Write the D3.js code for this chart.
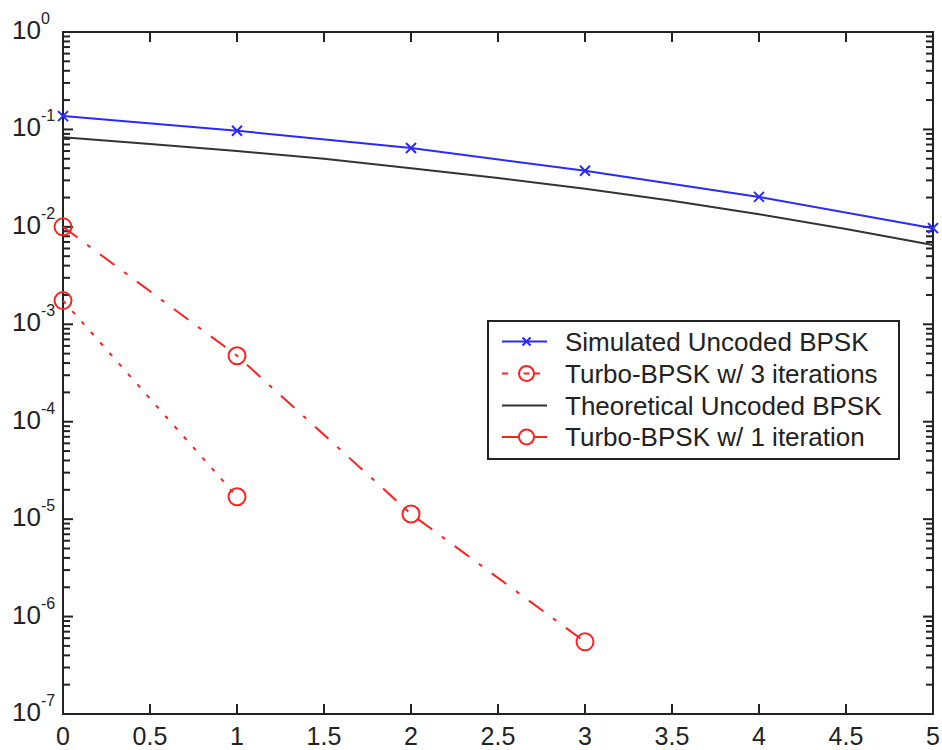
<!DOCTYPE html>
<html>
<head>
<meta charset="utf-8">
<script src="https://cdn.jsdelivr.net/npm/d3@7"></script>
<style>
  html, body { margin: 0; padding: 0; background: #fff; }
  svg { display: block; }
  text { font-family: "Liberation Sans", Arial, sans-serif; fill: #222; }
</style>
</head>
<body>
<svg id="chart" width="942" height="750"></svg>
<script>
// ---- data ----
const xTicks = [0, 0.5, 1, 1.5, 2, 2.5, 3, 3.5, 4, 4.5, 5];
const xTickLabels = ["0", "0.5", "1", "1.5", "2", "2.5", "3", "3.5", "4", "4.5", "5"];
const yDecades = [0, -1, -2, -3, -4, -5, -6, -7];

const simX = [0, 1, 2, 3, 4, 5];
const simBER = [0.137, 0.097, 0.0645, 0.0377, 0.0203, 0.0097];

const theoX = [0, 0.5, 1, 1.5, 2, 2.5, 3, 3.5, 4, 4.5, 5];
const theoBER = [0.083, 0.071, 0.060, 0.050, 0.040, 0.0318, 0.0246, 0.0185, 0.0135, 0.0095, 0.0065];

const turbo3X = [0, 1];
const turbo3BER = [1.75e-3, 1.70e-5];

const turbo1X = [0, 1, 2, 3];
const turbo1BER = [1.0e-2, 4.76e-4, 1.13e-5, 5.5e-7];

const legendLabels = [
  "Simulated Uncoded BPSK",
  "Turbo-BPSK w/ 3 iterations",
  "Theoretical Uncoded BPSK",
  "Turbo-BPSK w/ 1 iteration"
];

// ---- layout ----
const L = 63, R = 933, T = 32, B = 714;
const svg = d3.select("#chart");
const x = d3.scaleLinear().domain([0, 5]).range([L, R]);
const y = d3.scaleLog().domain([1e-7, 1]).range([B, T]);

const axisColor = "#222";

// plot frame
svg.append("rect").attr("x", L).attr("y", T).attr("width", R - L).attr("height", B - T)
  .attr("fill", "#fff").attr("stroke", axisColor).attr("stroke-width", 2);

// x ticks (bottom & top, inward)
const gx = svg.append("g");
xTicks.forEach((v, i) => {
  const px = x(v);
  gx.append("line").attr("x1", px).attr("x2", px).attr("y1", B).attr("y2", B - 10)
    .attr("stroke", axisColor).attr("stroke-width", 2);
  gx.append("line").attr("x1", px).attr("x2", px).attr("y1", T).attr("y2", T + 10)
    .attr("stroke", axisColor).attr("stroke-width", 2);
  gx.append("text").attr("x", px).attr("y", 745).attr("text-anchor", "middle")
    .attr("font-size", 25).text(xTickLabels[i]);
});

// y ticks (log major + minor, left & right, inward)
const gy = svg.append("g");
yDecades.forEach(d => {
  const py = y(Math.pow(10, d));
  [[L, L + 10], [R, R - 10]].forEach(([a, b]) => {
    gy.append("line").attr("x1", a).attr("x2", b).attr("y1", py).attr("y2", py)
      .attr("stroke", axisColor).attr("stroke-width", 2);
  });
  const t = gy.append("text").attr("x", 12).attr("y", py + 7).attr("font-size", 26);
  t.append("tspan").text("10");
  t.append("tspan").attr("font-size", 16).attr("dy", -15).text(String(d));
  if (d > -7) {
    for (let m = 2; m <= 9; m++) {
      const pm = y(m * Math.pow(10, d - 1));
      [[L, L + 7], [R, R - 7]].forEach(([a, b]) => {
        gy.append("line").attr("x1", a).attr("x2", b).attr("y1", pm).attr("y2", pm)
          .attr("stroke", axisColor).attr("stroke-width", 2);
      });
    }
  }
});

// ---- series ----
const line = d3.line().x(d => x(d[0])).y(d => y(d[1]));
const plot = svg.append("g");

// theoretical
plot.append("path").datum(d3.zip(theoX, theoBER)).attr("d", line)
  .attr("fill", "none").attr("stroke", "#333").attr("stroke-width", 2);

// simulated
plot.append("path").datum(d3.zip(simX, simBER)).attr("d", line)
  .attr("fill", "none").attr("stroke", "#2a2aff").attr("stroke-width", 2);
function xMark(g, cx, cy, s, color) {
  g.append("path").attr("d", `M${cx - s},${cy - s}L${cx + s},${cy + s}M${cx - s},${cy + s}L${cx + s},${cy - s}`)
    .attr("stroke", color).attr("stroke-width", 2).attr("fill", "none");
}
d3.zip(simX, simBER).forEach(d => xMark(plot, x(d[0]), y(d[1]), 5, "#2a2aff"));

// turbo 1 iteration (dash-dot)
plot.append("path").datum(d3.zip(turbo1X, turbo1BER)).attr("d", line)
  .attr("fill", "none").attr("stroke", "#ff2020").attr("stroke-width", 2)
  .attr("stroke-dasharray", "18,12,4,12");
d3.zip(turbo1X, turbo1BER).forEach(d => {
  plot.append("circle").attr("cx", x(d[0])).attr("cy", y(d[1])).attr("r", 8.5)
    .attr("fill", "none").attr("stroke", "#ff2020").attr("stroke-width", 2);
});

// turbo 3 iterations (dotted)
plot.append("path").datum(d3.zip(turbo3X, turbo3BER)).attr("d", line)
  .attr("fill", "none").attr("stroke", "#ff2020").attr("stroke-width", 2)
  .attr("stroke-dasharray", "4,10");
d3.zip(turbo3X, turbo3BER).forEach(d => {
  plot.append("circle").attr("cx", x(d[0])).attr("cy", y(d[1])).attr("r", 8.5)
    .attr("fill", "none").attr("stroke", "#ff2020").attr("stroke-width", 2);
});

// ---- legend ----
const lg = svg.append("g");
lg.append("rect").attr("x", 488).attr("y", 321).attr("width", 411).attr("height", 138)
  .attr("fill", "#fff").attr("stroke", axisColor).attr("stroke-width", 2);
const rowY = [341.5, 373.5, 405.5, 437];
const lx1 = 502, lx2 = 547, lmx = 526.5;
// row 1
lg.append("line").attr("x1", lx1).attr("x2", lx2).attr("y1", rowY[0]).attr("y2", rowY[0])
  .attr("stroke", "#2a2aff").attr("stroke-width", 2);
xMark(lg, lmx, rowY[0], 4, "#2a2aff");
// row 2
lg.append("line").attr("x1", lx1).attr("x2", lx2).attr("y1", rowY[1]).attr("y2", rowY[1])
  .attr("stroke", "#ff2020").attr("stroke-width", 2).attr("stroke-dasharray", "6,10");
lg.append("circle").attr("cx", lmx).attr("cy", rowY[1]).attr("r", 7.5)
  .attr("fill", "#fff").attr("stroke", "#ff2020").attr("stroke-width", 2);
lg.append("line").attr("x1", lmx - 3).attr("x2", lmx + 3).attr("y1", rowY[1]).attr("y2", rowY[1])
  .attr("stroke", "#ff2020").attr("stroke-width", 2);
// row 3
lg.append("line").attr("x1", lx1).attr("x2", lx2).attr("y1", rowY[2]).attr("y2", rowY[2])
  .attr("stroke", "#333").attr("stroke-width", 2);
// row 4
lg.append("line").attr("x1", lx1).attr("x2", lx2).attr("y1", rowY[3]).attr("y2", rowY[3])
  .attr("stroke", "#ff2020").attr("stroke-width", 2);
lg.append("circle").attr("cx", lmx).attr("cy", rowY[3]).attr("r", 7.5)
  .attr("fill", "#fff").attr("stroke", "#ff2020").attr("stroke-width", 2);

legendLabels.forEach((s, i) => {
  lg.append("text").attr("x", 565).attr("y", rowY[i] + 9).attr("font-size", 26).text(s);
});
</script>
</body>
</html>
